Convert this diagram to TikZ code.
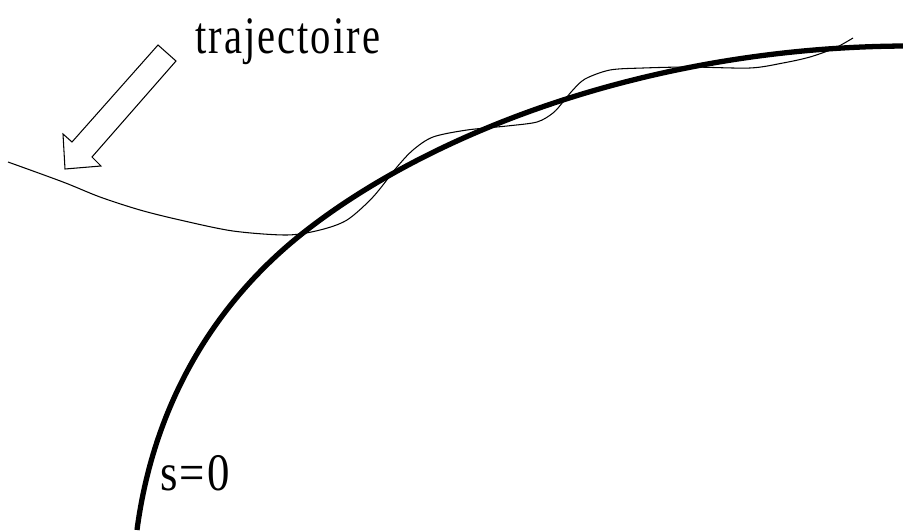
\documentclass[tikz,border=0pt]{standalone}
\usepackage{fontspec}
\setmainfont{Liberation Serif}
\usepackage{tikz}
\usetikzlibrary{positioning}

\begin{document}
\begin{tikzpicture}[
    x=0.03cm, y=-0.03cm,
    bord/.style={line width=4.5pt},
    traj/.style={line width=0.9pt},
    fleche/.style={line width=0.9pt, line join=miter},
    lbl/.style={inner sep=0pt, font=\fontsize{45}{45}\selectfont\addfontfeatures{LetterSpace=5}}
]
\useasboundingbox (0,0) rectangle (903,530);

% surface s=0
\draw[bord] (137,530) .. controls (154,401) and (217,301) .. (303,233)
    .. controls (436,128) and (660,46) .. (910,46);

% trajectoire
\draw[traj] plot[smooth] coordinates {(8,162) (63,182) (100,197) (140,210) (180,220) (233,231) (287,235) (320,230) (347,220) (373,197) (397,167) (413,150) (433,137) (467,130) (507,126) (537,122) (553,113) (563,102) (572,91) (585,79) (610,70) (643,68) (690,67) (750,68) (783,63) (810,57) (835,48) (853,38)};

\node[lbl, anchor=base west] (titre) at (195,53) {\scalebox{0.77}[1]{trajectoire}};
\node[lbl, anchor=base west] (szero) at (160,490) {\scalebox{0.85}[1]{s=0}};

% fleche creuse
\draw[fleche] (158,45) -- (176,61) -- (92,157) -- (101,166) -- (65,169) -- (63,134) -- (72,142) -- cycle;

\end{tikzpicture}
\end{document}
